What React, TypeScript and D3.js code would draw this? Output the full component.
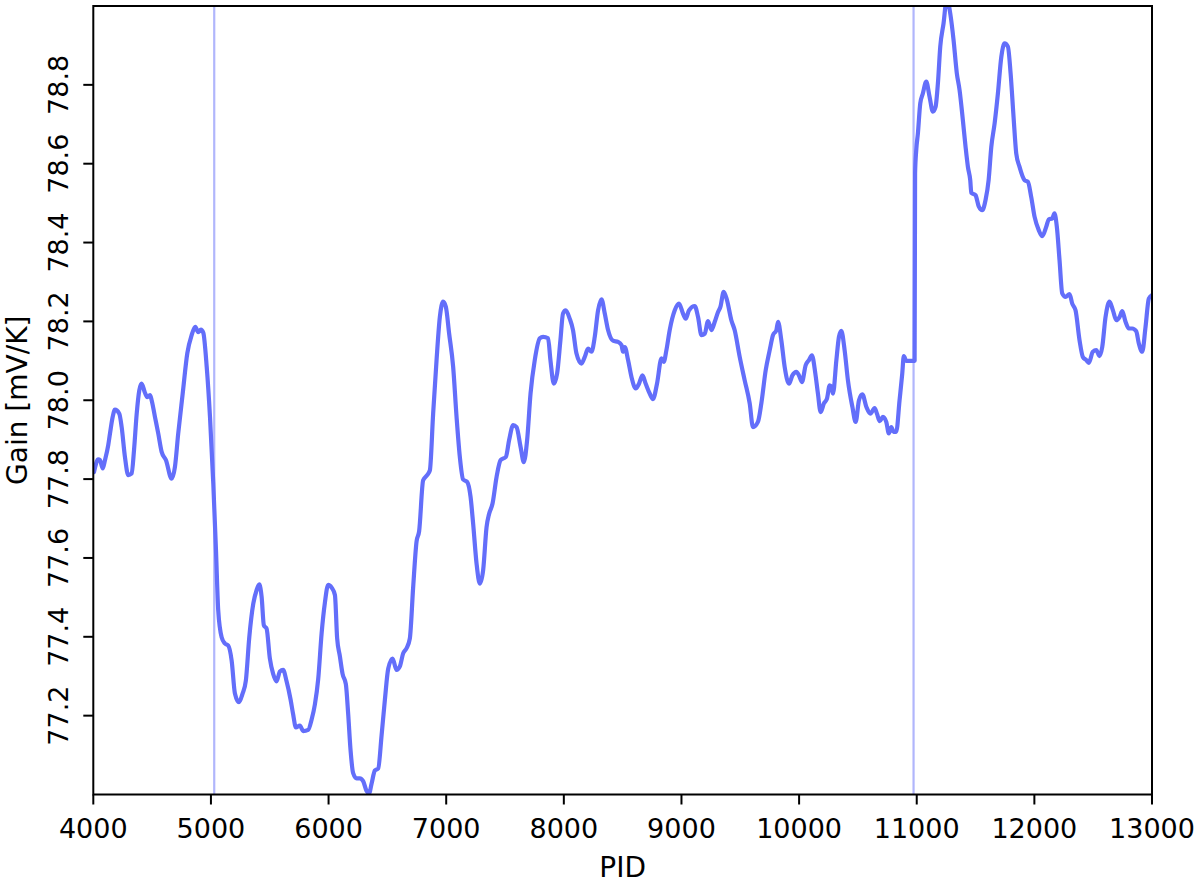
import React, { useEffect, useRef } from "react";
import * as d3 from "d3";

// PID sample positions of the gain curve
const pid: number[] = [
  4006, 4042, 4057, 4080, 4099, 4127, 4142, 4165, 4184, 4221, 4241, 4269, 4297, 4326, 4346, 4369,
  4391, 4411, 4439, 4459, 4482, 4496, 4524, 4552, 4581, 4618, 4666, 4694, 4722, 4760, 4799, 4836,
  4867, 4892, 4915, 4935, 4964, 4992, 5020, 5043, 5062, 5091, 5119, 5147, 5176, 5204, 5238, 5269,
  5297, 5326, 5360, 5388, 5411, 5431, 5450, 5473, 5501, 5529, 5558, 5586, 5614, 5643, 5677, 5699,
  5722, 5756, 5784, 5827, 5856, 5884, 5912, 5941, 5969, 5997, 6026, 6054, 6073, 6096, 6119, 6147,
  6167, 6187, 6209, 6238, 6266, 6294, 6323, 6345, 6366, 6394, 6422, 6451, 6479, 6507, 6544, 6578,
  6606, 6634, 6663, 6691, 6719, 6748, 6770, 6804, 6838, 6861, 6889, 6918, 6946, 6974, 6997, 7025,
  7059, 7088, 7116, 7144, 7178, 7207, 7229, 7258, 7286, 7314, 7343, 7365, 7394, 7428, 7462, 7507,
  7535, 7569, 7598, 7632, 7660, 7688, 7717, 7753, 7796, 7824, 7866, 7886, 7915, 7943, 7971, 7993,
  8016, 8050, 8078, 8107, 8150, 8178, 8206, 8235, 8263, 8291, 8320, 8348, 8376, 8418, 8461, 8490,
  8503, 8518, 8546, 8575, 8611, 8639, 8668, 8696, 8730, 8758, 8792, 8830, 8849, 8872, 8900, 8943,
  8979, 9013, 9036, 9064, 9113, 9141, 9170, 9198, 9226, 9255, 9283, 9311, 9331, 9359, 9387, 9424,
  9452, 9495, 9537, 9580, 9608, 9650, 9679, 9716, 9750, 9778, 9807, 9821, 9849, 9877, 9914, 9943,
  9977, 9999, 10024, 10056, 10084, 10109, 10138, 10160, 10183, 10211, 10237, 10260, 10274, 10288,
  10317, 10339, 10359, 10387, 10415, 10453, 10481, 10509, 10538, 10572, 10606, 10642, 10662, 10685,
  10713, 10741, 10763, 10784, 10803, 10826, 10854, 10877, 10890, 10911, 10982, 10986, 10996, 11010,
  11030, 11052, 11081, 11109, 11137, 11160, 11180, 11200, 11228, 11256, 11285, 11313, 11341, 11364,
  11392, 11415, 11435, 11455, 11464, 11500, 11528, 11557, 11585, 11611, 11634, 11662, 11690, 11719,
  11747, 11775, 11798, 11823, 11846, 11874, 11917, 11945, 11973, 12002, 12038, 12067, 12101, 12123,
  12152, 12171, 12191, 12214, 12237, 12265, 12299, 12322, 12350, 12384, 12412, 12441, 12463, 12497,
  12526, 12554, 12577, 12605, 12639, 12668, 12696, 12724, 12747, 12775, 12803, 12832, 12866, 12888,
  12917, 12945, 12973, 13000,
];

// Gain values [mV/K]
const gain: number[] = [
  77.818, 77.85, 77.848, 77.827, 77.848, 77.886, 77.916, 77.958, 77.976, 77.966, 77.932, 77.856,
  77.81, 77.814, 77.873, 77.966, 78.025, 78.042, 78.019, 78.008, 78.013, 78.0, 77.958, 77.916,
  77.869, 77.848, 77.801, 77.831, 77.916, 78.017, 78.119, 78.165, 78.186, 78.173, 78.179, 78.171,
  78.085, 77.958, 77.789, 77.619, 77.467, 77.399, 77.383, 77.378, 77.34, 77.256, 77.234, 77.256,
  77.289, 77.399, 77.484, 77.518, 77.533, 77.501, 77.429, 77.421, 77.345, 77.306, 77.287, 77.312,
  77.316, 77.287, 77.241, 77.203, 77.17, 77.175, 77.161, 77.164, 77.19, 77.229, 77.293, 77.409,
  77.487, 77.532, 77.525, 77.506, 77.396, 77.351, 77.306, 77.28, 77.203, 77.112, 77.054, 77.041,
  77.041, 77.034, 77.009, 77.003, 77.028, 77.061, 77.066, 77.151, 77.241, 77.319, 77.345, 77.316,
  77.325, 77.358, 77.371, 77.396, 77.525, 77.642, 77.668, 77.797, 77.81, 77.822, 77.966, 78.102,
  78.211, 78.25, 78.237, 78.169, 78.085, 77.958, 77.856, 77.799, 77.793, 77.755, 77.687, 77.586,
  77.535, 77.569, 77.678, 77.712, 77.738, 77.805, 77.848, 77.856, 77.899, 77.937, 77.932, 77.882,
  77.843, 77.899, 78.017, 78.102, 78.157, 78.161, 78.157, 78.102, 78.042, 78.068, 78.152, 78.22,
  78.228, 78.207, 78.178, 78.119, 78.093, 78.11, 78.131, 78.123, 78.161, 78.228, 78.256, 78.22,
  78.178, 78.151, 78.148, 78.14, 78.123, 78.135, 78.102, 78.059, 78.03, 78.042, 78.063, 78.042,
  78.017, 78.003, 78.042, 78.106, 78.097, 78.127, 78.178, 78.228, 78.245, 78.22, 78.207, 78.228,
  78.239, 78.211, 78.165, 78.169, 78.201, 78.178, 78.199, 78.224, 78.237, 78.275, 78.254, 78.203,
  78.178, 78.11, 78.051, 77.992, 77.932, 77.945, 77.992, 78.076, 78.127, 78.165, 78.178, 78.199,
  78.152, 78.085, 78.042, 78.063, 78.072, 78.063, 78.046, 78.089, 78.102, 78.114, 78.068, 78.017,
  77.97, 77.992, 78.004, 78.038, 78.034, 78.017, 78.102, 78.161, 78.176, 78.127, 78.051, 77.983,
  77.945, 78.0, 78.015, 77.983, 77.966, 77.98, 77.966, 77.947, 77.958, 77.945, 77.916, 77.932,
  77.92, 77.92, 78.0, 78.068, 78.112, 78.1, 78.1, 78.575, 78.635, 78.677, 78.753, 78.778,
  78.808, 78.77, 78.732, 78.744, 78.804, 78.897, 78.956, 79.02, 78.981, 78.914, 78.829, 78.787,
  78.711, 78.643, 78.592, 78.558, 78.526, 78.52, 78.491, 78.482, 78.508, 78.558, 78.643, 78.702,
  78.778, 78.871, 78.905, 78.897, 78.829, 78.719, 78.626, 78.592, 78.558, 78.554, 78.516, 78.465,
  78.431, 78.416, 78.44, 78.459, 78.461, 78.474, 78.44, 78.355, 78.271, 78.262, 78.269, 78.245,
  78.228, 78.152, 78.11, 78.102, 78.095, 78.123, 78.127, 78.112, 78.135, 78.211, 78.25, 78.228,
  78.203, 78.211, 78.226, 78.199, 78.182, 78.182, 78.175, 78.144, 78.123, 78.186, 78.258, 78.267,
];

// Vertical marker positions (PID)
const markers: number[] = [5028, 10973];

const xTicks: number[] = [4000, 5000, 6000, 7000, 8000, 9000, 10000, 11000, 12000, 13000];
const yTicks: number[] = [77.2, 77.4, 77.6, 77.8, 78.0, 78.2, 78.4, 78.6, 78.8];

const W = 1200;
const H = 883;
const M = { left: 93.3, right: 1152, top: 6, bottom: 794.5 };
const FONT = "'DejaVu Sans', sans-serif";
const FS = 27;
const LINE_COLOR = "#636efa";

export default function App() {
  const ref = useRef<SVGSVGElement>(null);

  useEffect(() => {
    const svg = d3.select(ref.current);
    svg.selectAll("*").remove();

    const x = d3.scaleLinear().domain([4000, 13000]).range([M.left, M.right]);
    const y = d3.scaleLinear().domain([77.0, 79.0]).range([M.bottom, M.top]);

    svg
      .append("defs")
      .append("clipPath")
      .attr("id", "plotclip")
      .append("rect")
      .attr("x", M.left)
      .attr("y", M.top)
      .attr("width", M.right - M.left)
      .attr("height", M.bottom - M.top);

    const plot = svg.append("g").attr("clip-path", "url(#plotclip)");

    plot
      .selectAll("line.marker")
      .data(markers)
      .enter()
      .append("line")
      .attr("class", "marker")
      .attr("x1", (d) => x(d))
      .attr("x2", (d) => x(d))
      .attr("y1", M.top)
      .attr("y2", M.bottom)
      .attr("stroke", LINE_COLOR)
      .attr("stroke-opacity", 0.5)
      .attr("stroke-width", 2.2);

    const pts: [number, number][] = pid.map((p, i) => [p, gain[i]]);
    const line = d3
      .line<[number, number]>()
      .x((d) => x(d[0]))
      .y((d) => y(d[1]))
      .curve(d3.curveMonotoneX);

    plot
      .append("path")
      .datum(pts)
      .attr("d", line)
      .attr("fill", "none")
      .attr("stroke", LINE_COLOR)
      .attr("stroke-width", 4.2)
      .attr("stroke-linejoin", "round")
      .attr("stroke-linecap", "round");

    // frame
    svg
      .append("rect")
      .attr("x", M.left)
      .attr("y", M.top)
      .attr("width", M.right - M.left)
      .attr("height", M.bottom - M.top)
      .attr("fill", "none")
      .attr("stroke", "#000")
      .attr("stroke-width", 2);

    // x ticks
    const xg = svg.append("g");
    xTicks.forEach((t) => {
      xg.append("line")
        .attr("x1", x(t))
        .attr("x2", x(t))
        .attr("y1", M.bottom)
        .attr("y2", M.bottom + 10)
        .attr("stroke", "#000")
        .attr("stroke-width", 2);
      xg.append("text")
        .attr("x", x(t))
        .attr("y", 838)
        .attr("text-anchor", "middle")
        .attr("font-family", FONT)
        .attr("font-size", FS)
        .attr("fill", "#000")
        .text(String(t));
    });

    // y ticks
    const yg = svg.append("g");
    yTicks.forEach((t) => {
      yg.append("line")
        .attr("x1", M.left - 10)
        .attr("x2", M.left)
        .attr("y1", y(t))
        .attr("y2", y(t))
        .attr("stroke", "#000")
        .attr("stroke-width", 2);
      yg.append("text")
        .attr("x", 68)
        .attr("y", y(t))
        .attr("transform", `rotate(-90, 68, ${y(t)})`)
        .attr("text-anchor", "middle")
        .attr("font-family", FONT)
        .attr("font-size", FS)
        .attr("fill", "#000")
        .text(t.toFixed(1));
    });

    // axis labels
    svg
      .append("text")
      .attr("x", (M.left + M.right) / 2)
      .attr("y", 877)
      .attr("text-anchor", "middle")
      .attr("font-family", FONT)
      .attr("font-size", 28)
      .attr("fill", "#000")
      .text("PID");

    const ly = (M.top + M.bottom) / 2;
    svg
      .append("text")
      .attr("x", 27)
      .attr("y", ly)
      .attr("transform", `rotate(-90, 27, ${ly})`)
      .attr("text-anchor", "middle")
      .attr("font-family", FONT)
      .attr("font-size", 28)
      .attr("fill", "#000")
      .text("Gain [mV/K]");
  }, []);

  return (
    <svg
      ref={ref}
      width={W}
      height={H}
      style={{ position: "absolute", left: 0, top: 0, background: "#fff" }}
    />
  );
}
